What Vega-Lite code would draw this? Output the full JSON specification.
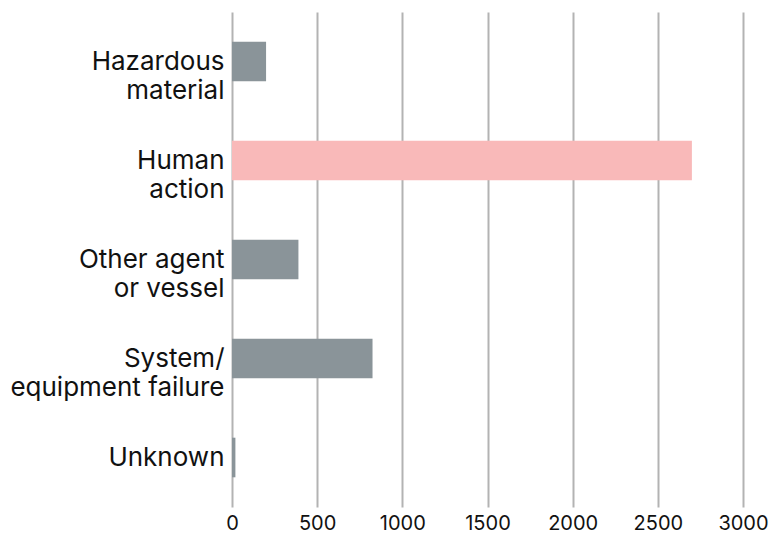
{
  "$schema": "https://vega.github.io/schema/vega-lite/v6.json",
  "autosize": "none",
  "width": 511,
  "height": 495,
  "padding": {"left": 232, "top": 12, "right": 26, "bottom": 30},
  "background": "white",
  "data": {
    "values": [
      {"cause": "Hazardous\nmaterial", "count": 200},
      {"cause": "Human\naction", "count": 2700},
      {"cause": "Other agent\nor vessel", "count": 390},
      {"cause": "System/\nequipment failure", "count": 825},
      {"cause": "Unknown", "count": 20}
    ]
  },
  "mark": {"type": "bar"},
  "encoding": {
    "y": {
      "field": "cause",
      "type": "nominal",
      "sort": null,
      "scale": {"paddingInner": 0.6, "paddingOuter": 0.3},
      "axis": {
        "title": null,
        "labelExpr": "split(datum.label, '\\n')",
        "labelFontSize": 26,
        "labelLineHeight": 29,
        "labelFont": "Inter",
        "labelColor": "#111111",
        "labelPadding": 8,
        "labelLimit": 300,
        "ticks": false,
        "domain": false,
        "grid": false
      }
    },
    "x": {
      "field": "count",
      "type": "quantitative",
      "scale": {"domain": [0, 3000]},
      "axis": {
        "title": null,
        "values": [0, 500, 1000, 1500, 2000, 2500, 3000],
        "format": "d",
        "labelFontSize": 20,
        "labelFont": "Inter",
        "labelColor": "#111111",
        "labelPadding": 6,
        "labelFlush": false,
        "labelOverlap": false,
        "ticks": false,
        "domain": false,
        "grid": true,
        "gridColor": "#b3b3b3",
        "gridWidth": 2
      }
    },
    "color": {
      "condition": {"test": "datum.cause == 'Human\\naction'", "value": "#f9b9b9"},
      "value": "#8a9499"
    }
  },
  "config": {"view": {"stroke": null}}
}
